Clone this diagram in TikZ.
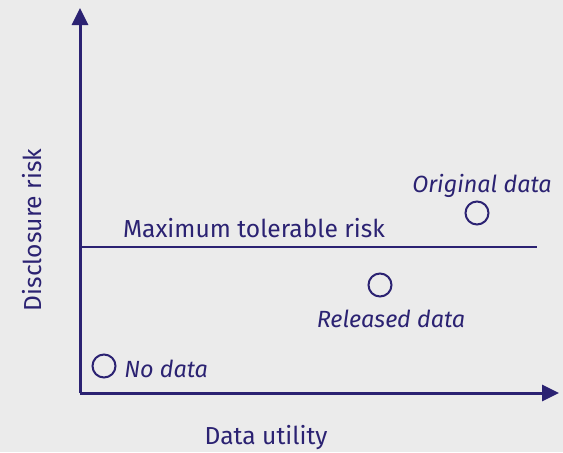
\documentclass[tikz,border=0pt]{standalone}
\usepackage{fontspec}
\setmainfont{Fira Sans}
\usetikzlibrary{arrows.meta}
\definecolor{navy}{HTML}{2B2272}
\definecolor{bgray}{HTML}{EBEBEB}
\tikzset{
  axis/.style={draw=navy,line width=1.5pt,-{Triangle[length=8.5pt,width=8pt]}},
  dot/.style={circle,draw=navy,line width=1pt,minimum size=11.5pt,inner sep=0pt},
  lbl/.style={text=navy,font=\fontsize{12.3}{14}\selectfont,inner sep=0pt},
  ilbl/.style={lbl,font=\fontsize{11.7}{14}\selectfont\itshape}
}
\begin{document}
\begin{tikzpicture}[x=.5pt,y=-.5pt]
\fill[bgray] (0,0) rectangle (563,452);
\useasboundingbox (0,0) rectangle (563,452);

\coordinate (o) at (80,393);
\coordinate (ytop) at (80,8);
\coordinate (xend) at (559,393);
\coordinate (tl) at (80,247);
\coordinate (tr) at (537,247);

\draw[axis] (o) -- (ytop);
\draw[axis] (o) -- (xend);
\draw[navy,line width=1pt] (tl) -- (tr);

\node[lbl] (tol) at (254,228) {Maximum tolerable risk};
\node[lbl,rotate=90] (ylab) at (32,230) {Disclosure risk};
\node[lbl] (xlab) at (266,438) {Data utility};

\node[dot] (orig) at (477,213) {};
\node[ilbl] (origl) at (482,186) {Original data};
\node[dot] (rel) at (380,285) {};
\node[ilbl] (rell) at (391,319) {Released data};
\node[dot] (none) at (104,366) {};
\node[ilbl,anchor=west] (nonel) at (124,369) {No data};
\end{tikzpicture}
\end{document}
